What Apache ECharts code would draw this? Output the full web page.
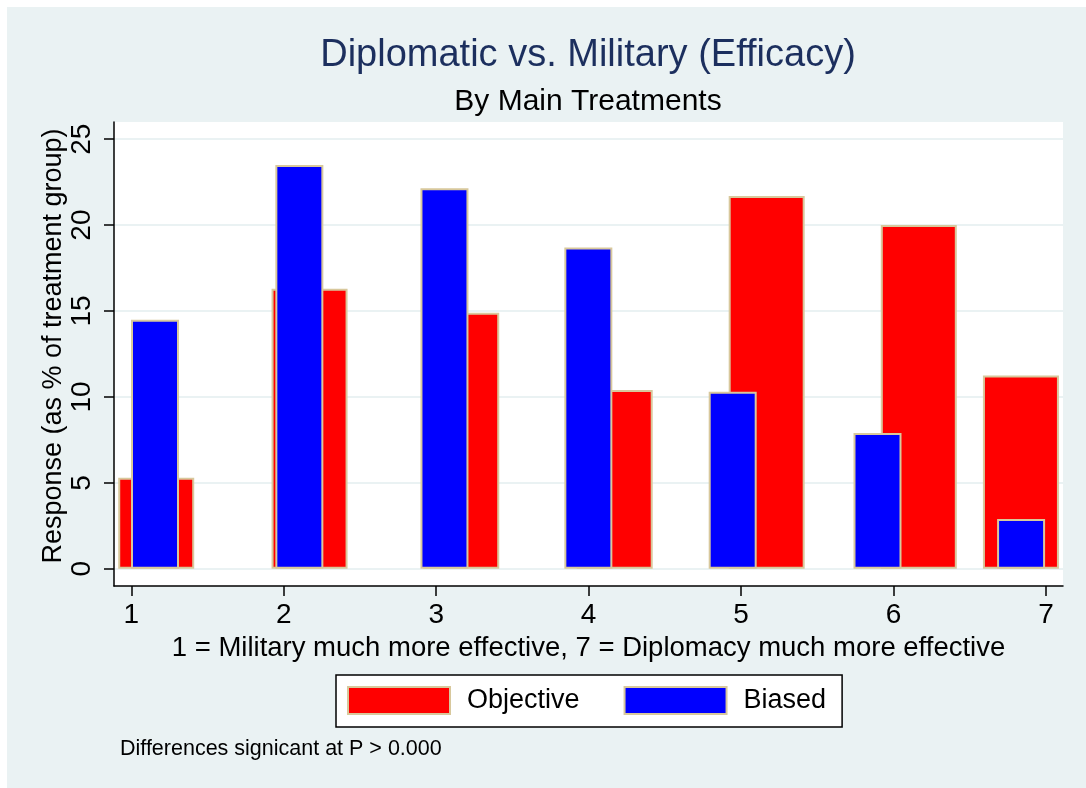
<!DOCTYPE html>
<html>
<head>
<meta charset="utf-8">
<title>Diplomatic vs. Military (Efficacy)</title>
<script src="https://cdn.jsdelivr.net/npm/echarts@6.0.0/dist/echarts.min.js"></script>
<style>
    html, body { margin: 0; padding: 0; background: #ffffff; }
    #chart { position: absolute; left: 7px; top: 7px; width: 1079px; height: 781px; }
</style>
</head>
<body>
<div id="chart"></div>
<script>
// response scale positions (bars sit slightly off the integer ticks in the original)
var objectiveX = [1.163, 2.169, 3.164, 4.171, 5.168, 6.166, 6.836];
var objectiveY = [5.3, 16.3, 14.9, 10.4, 21.7, 20.0, 11.25];
var biasedX = [1.155, 2.102, 3.054, 3.998, 4.945, 5.895, 6.837];
var biasedY = [14.5, 23.5, 22.15, 18.7, 10.3, 7.9, 2.9];

var xTicks = [1, 2, 3, 4, 5, 6, 7];
var yTicks = [0, 5, 10, 15, 20, 25];

var font = "'Liberation Sans', Arial, sans-serif";
var tan = '#d8c89c';

function pairs(xs, ys) {
    return xs.map(function (x, i) { return [x, ys[i]]; });
}

var chart = echarts.init(document.getElementById('chart'), null, { renderer: 'canvas' });

var xBase = {
    type: 'value',
    min: 0.886,
    max: 7.112,
    splitLine: { show: false }
};

chart.setOption({
    backgroundColor: '#eaf2f3',
    animation: false,
    textStyle: { fontFamily: font },
    title: [
        {
            text: 'Diplomatic vs. Military (Efficacy)',
            left: 581, top: 30, padding: 0, textAlign: 'center',
            textStyle: { fontFamily: font, fontSize: 38, fontWeight: 'normal', color: '#1c2f5e' }
        },
        {
            text: 'By Main Treatments',
            left: 581, top: 80, padding: 0, textAlign: 'center',
            textStyle: { fontFamily: font, fontSize: 30, fontWeight: 'normal', color: '#000' }
        },
        {
            text: 'Differences signicant at P > 0.000',
            left: 113, top: 731, padding: 0,
            textStyle: { fontFamily: font, fontSize: 21.5, fontWeight: 'normal', color: '#000' }
        }
    ],
    legend: {
        data: ['Objective', 'Biased'],
        left: 329, top: 668,
        orient: 'horizontal',
        icon: 'rect',
        itemWidth: 102, itemHeight: 27, itemGap: 44,
        padding: [11, 16, 12, 11],
        backgroundColor: '#fff',
        borderColor: '#000', borderWidth: 1.5, borderRadius: 0,
        textStyle: { fontFamily: font, fontSize: 27, color: '#000', padding: [0, 0, 0, 12] }
    },
    grid: {
        left: 107, top: 115, right: 23, bottom: 202,
        show: true, backgroundColor: '#fff', borderWidth: 0,
        containLabel: false
    },
    xAxis: [
        Object.assign({}, xBase, {
            position: 'bottom',
            name: '1 = Military much more effective, 7 = Diplomacy much more effective',
            nameLocation: 'middle', nameGap: 48, nameMoveOverlap: false,
            nameTextStyle: { fontFamily: font, fontSize: 27.5, color: '#000' },
            axisLine: { show: true, onZero: false, lineStyle: { color: '#000', width: 1.5 } },
            axisTick: { show: true, customValues: xTicks, length: 10, lineStyle: { color: '#000', width: 1.5 } },
            axisLabel: { customValues: xTicks, margin: 15, fontFamily: font, fontSize: 28, color: '#000' }
        }),
        Object.assign({}, xBase, { show: false })
    ],
    yAxis: {
        type: 'value',
        min: -1,
        max: 26,
        name: 'Response (as % of treatment group)',
        nameLocation: 'middle', nameGap: 47, nameMoveOverlap: false,
        nameTextStyle: { fontFamily: font, fontSize: 27, color: '#000', padding: [0, 0, 0, 16] },
        axisLine: { show: true, onZero: false, lineStyle: { color: '#000', width: 1.5 } },
        axisTick: { show: true, customValues: yTicks, length: 10, lineStyle: { color: '#000', width: 1.5 } },
        axisLabel: { customValues: yTicks, rotate: 90, margin: 18, fontFamily: font, fontSize: 28, color: '#000' },
        splitLine: { show: true, lineStyle: { color: '#eaf2f3', width: 2 } }
    },
    series: [
        {
            name: 'Objective',
            type: 'bar',
            xAxisIndex: 0,
            barWidth: 76,
            data: pairs(objectiveX, objectiveY),
            itemStyle: { color: '#ff0000', borderColor: tan, borderWidth: 2 }
        },
        {
            name: 'Biased',
            type: 'bar',
            xAxisIndex: 1,
            barWidth: 48,
            data: pairs(biasedX, biasedY),
            itemStyle: { color: '#0000ff', borderColor: tan, borderWidth: 2 }
        }
    ]
});
</script>
</body>
</html>
